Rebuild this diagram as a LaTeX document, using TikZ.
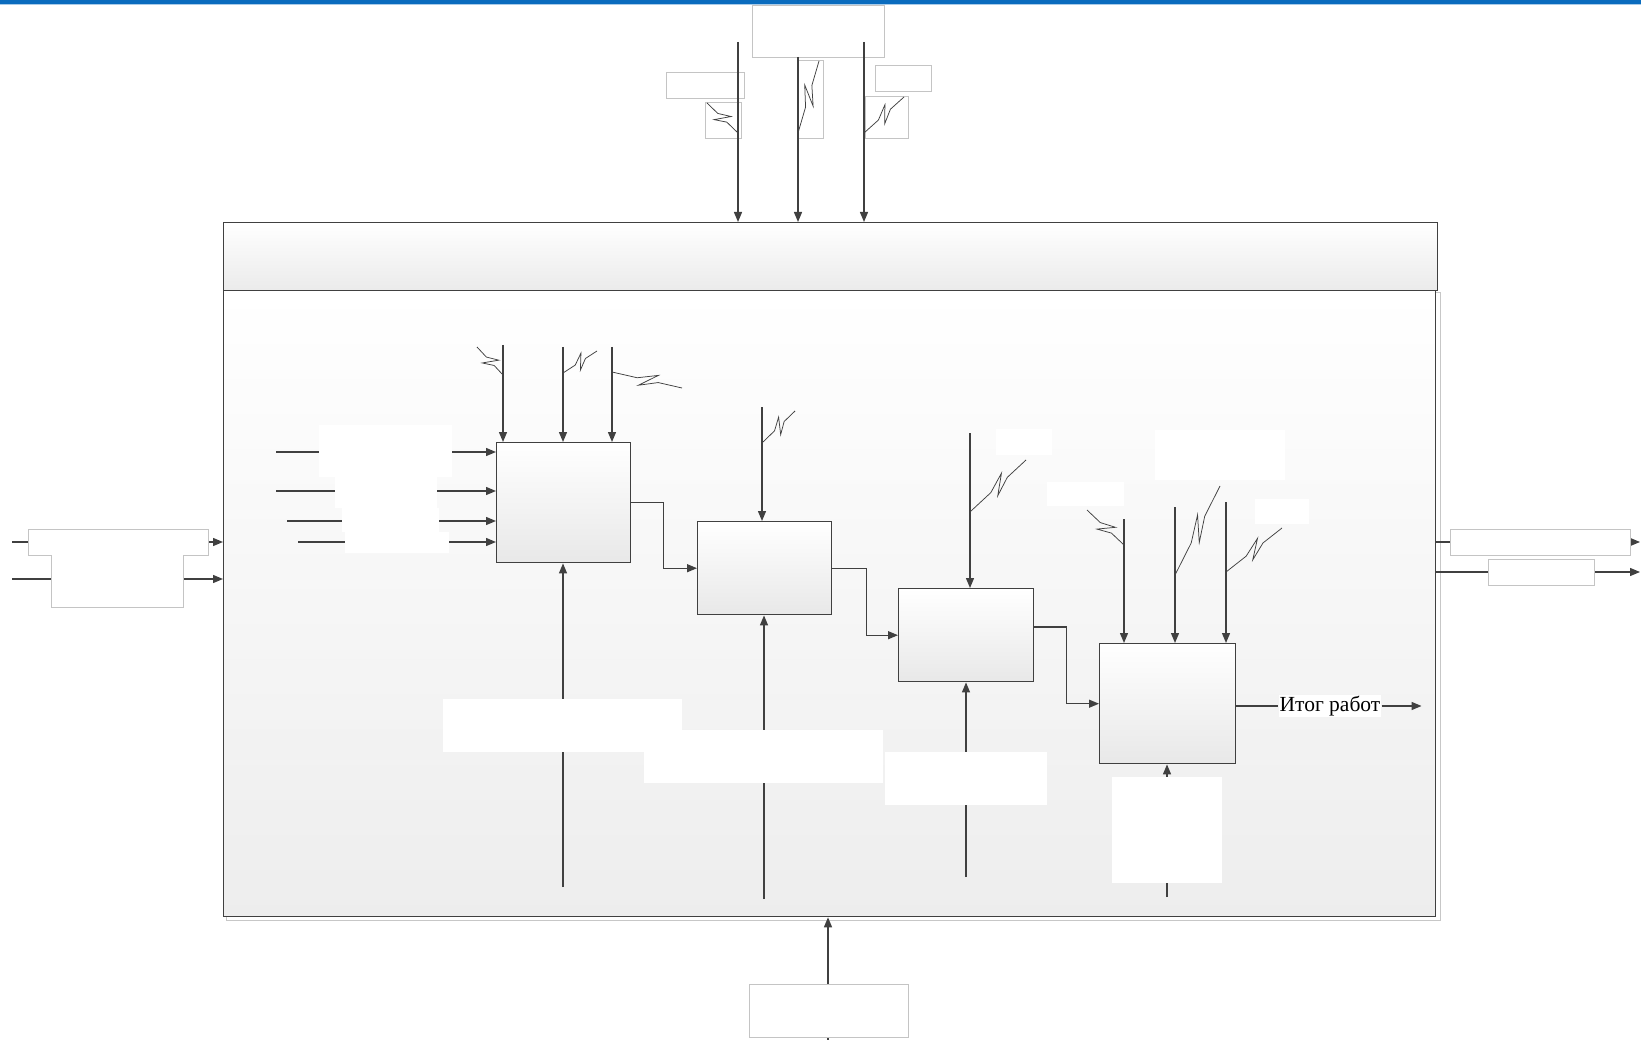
\documentclass[tikz,border=0pt]{standalone}
\usepackage{fontspec}
\setmainfont{Liberation Serif}
\usetikzlibrary{arrows.meta,calc}
\definecolor{blu}{HTML}{0A6CBE}
\definecolor{lblc}{HTML}{C4C4C4}
\definecolor{lnc}{HTML}{404040}
\newcommand\zz[2]{\draw[sq] #1 -- ($#1!0.36!#2$) -- ($#1!0.64!#2!7pt!90:#2$) -- ($#1!0.40!#2!7pt!-90:#2$) -- ($#1!0.66!#2$) -- #2;}
\begin{document}
\begin{tikzpicture}[x=1pt,y=-1pt,
  arr/.style={draw=lnc,line width=1.3pt,-{Triangle[length=10pt,width=8pt]}},
  ln/.style={draw=lnc,line width=1.3pt},
  thk/.style={draw=lnc,line width=2.6pt},
  sq/.style={draw=lnc,line width=0.75pt},
  lbl/.style={draw=lblc,line width=0.8pt,fill=white},
  wpatch/.style={fill=white},
  proc/.style={draw=lnc,line width=1.4pt,top color=white,bottom color=black!9,anchor=north west,inner sep=0pt}]
\useasboundingbox (0,0) rectangle (1641,1040);
\fill[white] (0,0) rectangle (1641,1040);
% top bar
\fill[blu] (0,0) rectangle (1641,4);
\fill[blu!35] (0,4) rectangle (1641,5.5);

% frame
\draw[black!22,line width=1pt] (226,293) rectangle (1440,920);
\node[anchor=north west,minimum width=1212pt,minimum height=626pt,inner sep=0pt,draw=lnc,line width=1.3pt,top color=white,bottom color=black!7] (body) at (223,290) {};
\node[anchor=north west,minimum width=1214pt,minimum height=68pt,inner sep=0pt,draw=lnc,line width=1.3pt,top color=white,bottom color=black!8] (hdr) at (223,222) {};

% top labels
\path[lbl] (752,5) rectangle (884,57);
\path[lbl] (666,72) rectangle (744,98);
\path[lbl] (875,65) rectangle (931,91);
\path[lbl] (705,102) rectangle (741,138);
\path[lbl] (798,60) rectangle (823,138);
\path[lbl] (865,96) rectangle (908,138);
% top arrows
\coordinate (t1) at (738,42);
\coordinate (t2) at (798,57);
\coordinate (t3) at (864,42);
\draw[arr] (t1) -- (t1 |- hdr.north);
\draw[arr] (t2) -- (t2 |- hdr.north);
\draw[arr] (t3) -- (t3 |- hdr.north);
\draw[thk] (738,160) -- (738,187);
\draw[thk] (798,160) -- (798,185);
\draw[thk] (864,160) -- (864,187);
\zz{(707,103)}{(737,132)}
\zz{(798,133)}{(819,61)}
\zz{(864,133)}{(904,97)}

% left inputs
\coordinate (i1) at (12,542);
\coordinate (i2) at (12,579);
\draw[arr] (i1) -- (i1 -| body.west);
\draw[arr] (i2) -- (i2 -| body.west);
\path[lbl] (28,529) rectangle (208,555);
\fill[white] (51.4,554) rectangle (182.6,606.6);
\draw[lblc,line width=0.8pt] (51,555) -- (51,607) -- (183,607) -- (183,555);

% right outputs
\coordinate (o1) at (1640,542);
\coordinate (o2) at (1640,572);
\draw[arr] (o1 -| body.east) -- (o1);
\draw[arr] (o2 -| body.east) -- (o2);
\path[lbl] (1450,529) rectangle (1630,555);
\path[lbl] (1488,559) rectangle (1594,585);

% process boxes
\node[proc,minimum width=134pt,minimum height=120pt] (b1) at (496,442) {};
\node[proc,minimum width=134pt,minimum height=93pt] (b2) at (697,521) {};
\node[proc,minimum width=135pt,minimum height=93pt] (b3) at (898,588) {};
\node[proc,minimum width=136pt,minimum height=120pt] (b4) at (1099,643) {};

% box1 inputs
\coordinate (a1) at (276,452);
\coordinate (a2) at (276,491);
\coordinate (a3) at (287,521);
\coordinate (a4) at (298,542);
\draw[arr] (a1) -- (a1 -| b1.west);
\draw[arr] (a2) -- (a2 -| b1.west);
\draw[arr] (a3) -- (a3 -| b1.west);
\draw[arr] (a4) -- (a4 -| b1.west);
\fill[wpatch] (319,425) rectangle (452,477);
\fill[wpatch] (335,477) rectangle (437,508);
\fill[wpatch] (342,508) rectangle (439,532);
\fill[wpatch] (345,532) rectangle (449,553);

% mechanisms
\coordinate (m1) at (563,887);
\coordinate (m2) at (764,899);
\coordinate (m3) at (966,877);
\coordinate (m4) at (1167,897);
\draw[arr] (m1) -- (m1 |- b1.south);
\draw[arr] (m2) -- (m2 |- b2.south);
\draw[arr] (m3) -- (m3 |- b3.south);
\draw[arr] (m4) -- (m4 |- b4.south);
\fill[wpatch] (443,699) rectangle (682,752);
\fill[wpatch] (644,730) rectangle (883,783);
\fill[wpatch] (885,752) rectangle (1047,805);
\fill[wpatch] (1112,777) rectangle (1222,883);

% white label patches near controls
\fill[wpatch] (996,429) rectangle (1052,455);
\fill[wpatch] (1047,482) rectangle (1124,506);
\fill[wpatch] (1155,430) rectangle (1285,480);
\fill[wpatch] (1255,499) rectangle (1309,524);

% controls
\coordinate (c11) at (503,345);
\coordinate (c12) at (563,347);
\coordinate (c13) at (612,347);
\coordinate (c2) at (762,407);
\coordinate (c3) at (970,433);
\coordinate (c41) at (1124,519);
\coordinate (c42) at (1175,507);
\coordinate (c43) at (1226,502);
\draw[arr] (c11) -- (c11 |- b1.north);
\draw[arr] (c12) -- (c12 |- b1.north);
\draw[arr] (c13) -- (c13 |- b1.north);
\draw[arr] (c2) -- (c2 |- b2.north);
\draw[arr] (c3) -- (c3 |- b3.north);
\draw[arr] (c41) -- (c41 |- b4.north);
\draw[arr] (c42) -- (c42 |- b4.north);
\draw[arr] (c43) -- (c43 |- b4.north);
\draw[thk] (503,397) -- (503,412);
\zz{(477,347)}{(503,375)}
\zz{(563,373)}{(597,351)}
\zz{(612,372)}{(682,388)}
\zz{(763,442)}{(795,411)}
\zz{(971,511)}{(1026,460)}
\zz{(1087,510)}{(1124,545)}
\zz{(1175,575)}{(1220,486)}
\zz{(1226,572)}{(1282,528)}

% flows between boxes
\coordinate (b3o) at (b3.east |- 0,627);
\draw[arr] (b1.east) -- ++(32,0) |- (b2.west);
\draw[arr] (b2.east) -- ++(34,0) |- (b3.west);
\draw[arr] (b3o) -- ++(32,0) |- (b4.west);

% output
\node[fill=white,inner sep=1pt,font=\fontsize{21.5}{22}\selectfont] (itog) at (1330,706) {Итог работ};
\draw[ln] (b4.east |- itog.west) -- (itog.west);
\draw[arr] (itog.east) -- ++(40,0);

% bottom mechanism of frame
\coordinate (bm) at (828,1040);
\draw[arr] (bm) -- (bm |- body.south);
\path[lbl] (749,984) rectangle (908,1037);
\end{tikzpicture}
\end{document}
